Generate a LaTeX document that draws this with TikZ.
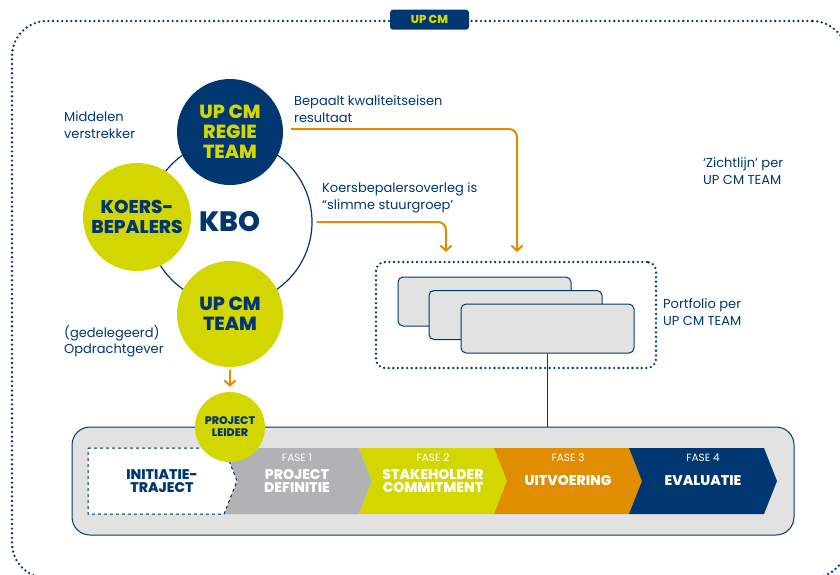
\documentclass[tikz,border=0pt]{standalone}
\usepackage{fontspec}
\setmainfont{Poppins}[BoldFont={Poppins ExtraBold}]
\usetikzlibrary{arrows.meta,calc}
\definecolor{navy}{HTML}{003770}
\definecolor{lime}{HTML}{D4D600}
\definecolor{orng}{HTML}{E08D00}
\definecolor{phgrey}{HTML}{B1B2B4}
\definecolor{bggrey}{HTML}{E2E2E2}
\tikzset{
  dotline/.style={draw=navy, line width=2.6pt, line cap=round, dash pattern=on 0pt off 4.6pt},
  bigcirc/.style={circle, inner sep=0pt, align=center, font=\bfseries\fontsize{19}{20}\selectfont},
  lbl/.style={anchor=west, inner sep=0pt, align=left, text=navy, font=\fontsize{13}{16.5}\selectfont},
  oarrow/.style={draw=orng, line width=2pt, rounded corners=8pt, -{Straight Barb[length=5pt,width=11pt]}},
  card/.style={draw=navy, fill=bggrey, line width=1pt, rounded corners=5pt, minimum width=173pt, minimum height=49pt, inner sep=0pt},
  fase/.style={text=white, inner sep=0pt, font=\fontsize{10.5}{12}\selectfont},
  phtxt/.style={inner sep=0pt, align=center, font=\bfseries\fontsize{14}{13.5}\selectfont},
}
\newcommand{\chevron}[2]{\fill[#2] (#1,448) -- ++(135,0) -- ++(13,33) -- ++(-13,33) -- ++(-135,0) -- ++(13,-33) -- cycle;}
\begin{document}
\begin{tikzpicture}[x=1pt,y=-1pt]
\useasboundingbox (0,0) rectangle (840,574);
% outer frame
\node[dotline, rounded corners=35pt, minimum width=835pt, minimum height=557pt, inner sep=0pt] (frame) at (429.5,299.5) {};
\node[fill=navy, rounded corners=3pt, minimum width=79pt, minimum height=20pt, inner sep=0pt, text=lime, font=\bfseries\fontsize{11.5}{12}\selectfont] (upcm) at (frame.north) {UP CM};
% KBO circle
\node[circle, draw=navy, line width=1.2pt, minimum size=164pt, inner sep=0pt, text=navy, font=\bfseries\fontsize{28}{30}\selectfont] (kbo) at (230,222) {KBO};
\node[bigcirc, fill=navy, text=lime, minimum size=106pt] (regie) at (230,132) {UP CM\\REGIE\\TEAM};
\node[bigcirc, fill=lime, text=navy, minimum size=108pt, font=\bfseries\fontsize{18.5}{20}\selectfont] (koers) at (137,217) {KOERS-\\BEPALERS};
\node[bigcirc, fill=lime, text=navy, minimum size=106pt] (team) at (230,314) {UP CM\\TEAM};
% labels
\node[lbl] (middelen) at (64,125) {Middelen\\verstrekker};
\node[lbl] (opdracht) at (64,341) {(gedelegeerd)\\Opdrachtgever};
\node[lbl] (bepaalt) at (294,109) {Bepaalt kwaliteitseisen\\resultaat};
\node[lbl] (overleg) at (322,198) {Koersbepalersoverleg is\\“slimme stuurgroep’};
\node[lbl] (zicht) at (703,171) {‘Zichtlijn’ per\\UP CM TEAM};
\node[lbl] (portlbl) at (663,312) {Portfolio per\\UP CM TEAM};
% portfolio
\node[dotline, rounded corners=9pt, minimum width=280pt, minimum height=106pt, inner sep=0pt] (portfolio) at (516,315) {};
\node[card] (card1) at (484.5,301.5) {};
\node[card] (card2) at (515.5,315) {};
\node[card] (card3) at (547.5,328.5) {};
% arrows
\coordinate (a1s) at ($(regie.east)+(8,-3)$);
\coordinate (a1e) at (517,252);
\coordinate (a2s) at ($(kbo.east)+(4,0)$);
\coordinate (a2e) at (446,252);
\draw[oarrow] (a1s) -| (a1e);
\draw[oarrow] (a2s) -| (a2e);
% phase box
\node[draw=navy, fill=bggrey, line width=1pt, rounded corners=18pt, minimum width=722pt, minimum height=108pt, inner sep=0pt] (phasebox) at (433,481) {};
\draw[navy, line width=1pt] (card3.south) -- (card3.south |- phasebox.north);
\chevron{224}{phgrey}
\chevron{359}{lime}
\chevron{494}{orng}
\chevron{629}{navy}
\filldraw[fill=white, draw=navy!80!black, line width=1pt, dashed] (88,448) -- (224,448) -- (237,481) -- (224,514) -- (88,514) -- cycle;
\node[phtxt, text=navy] (p0) at (162,481) {INITIATIE-\\TRAJECT};
\node[fase] (f1) at (297,458) {FASE 1};
\node[phtxt, text=white] (p1) at (297,481) {PROJECT\\DEFINITIE};
\node[fase] (f2) at (433,458) {FASE 2};
\node[phtxt, text=white] (p2) at (433,481) {STAKEHOLDER\\COMMITMENT};
\node[fase] (f3) at (568,458) {FASE 3};
\node[phtxt, text=white] (p3) at (568,481) {UITVOERING};
\node[fase] (f4) at (703,458) {FASE 4};
\node[phtxt, text=white] (p4) at (703,481) {EVALUATIE};
% project leider
\node[bigcirc, fill=lime, text=navy, minimum size=70pt, font=\bfseries\fontsize{11}{12}\selectfont] (pl) at (230,427) {PROJECT\\LEIDER};
\draw[oarrow] ($(team.south)+(0,3)$) -- ($(pl.north)+(0,-5)$);
\end{tikzpicture}
\end{document}
